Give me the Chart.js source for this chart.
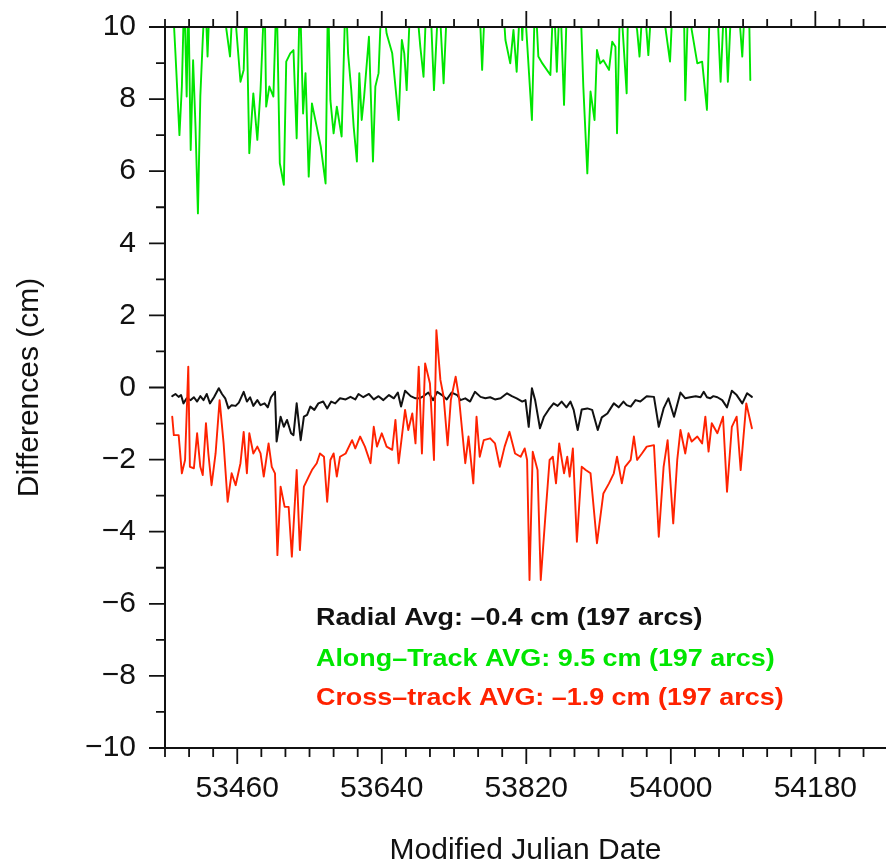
<!DOCTYPE html>
<html><head><meta charset="utf-8">
<script src="https://cdn.jsdelivr.net/npm/chart.js@4.4.1/dist/chart.umd.min.js"></script>
<style>html,body{margin:0;padding:0;background:#fff;overflow:hidden}canvas{display:block}</style>
</head><body>
<canvas id="c" width="886" height="864" style="width:886px;height:864px"></canvas>
<script>
// ---- tick labels ----
const xTickValues = [53460, 53640, 53820, 54000, 54180];
const yTickValues = [-10, -8, -6, -4, -2, 0, 2, 4, 6, 8, 10];

// ---- Radial (black) ----
const radialMJD = [53379,53383,53387,53390,53393,53397,53402,53406,53410,53414,53418,53422,53426,53431,53437,53441,53445,53449,53453,53458,53462,53468,53472,53476,53480,53485,53489,53494,53498,53502,53507,53509,53514,53518,53522,53527,53530,53534,53539,53543,53547,53551,53556,53561,53567,53572,53577,53582,53588,53595,53601,53607,53611,53617,53624,53630,53636,53642,53649,53655,53660,53664,53669,53676,53682,53687,53692,53698,53704,53709,53715,53721,53727,53734,
53738,53744,53750,53756,53763,53769,53775,53781,53788,53796,53802,53808,53815,53819,53823,53827,53831,53837,53842,53848,53854,53859,53864,53870,53875,53879,53884,53889,53896,53902,53909,53914,53921,53925,53929,53935,53941,53945,53950,53956,53962,53970,53979,53985,53991,53997,54004,54012,54018,54024,54031,54037,54041,54045,54049,54053,54058,54064,54070,54076,54082,54089,54095,54101];
const radialVals = [-0.24,-0.18,-0.26,-0.21,-0.44,-0.30,-0.35,-0.27,-0.39,-0.24,-0.35,-0.18,-0.44,-0.27,-0.02,-0.18,-0.30,-0.58,-0.49,-0.51,-0.42,-0.12,-0.39,-0.27,-0.51,-0.35,-0.49,-0.44,-0.55,-0.27,-0.12,-1.50,-0.81,-1.09,-0.90,-1.27,-1.32,-0.44,-1.46,-0.81,-0.76,-0.53,-0.62,-0.44,-0.39,-0.58,-0.39,-0.44,-0.30,-0.33,-0.26,-0.33,-0.18,-0.27,-0.18,-0.33,-0.24,-0.35,-0.21,-0.30,-0.14,-0.53,-0.09,-0.24,-0.30,-0.30,-0.24,-0.14,-0.35,-0.12,-0.21,-0.33,-0.14,-0.21,
-0.35,-0.30,-0.39,-0.12,-0.26,-0.30,-0.27,-0.33,-0.30,-0.16,-0.24,-0.30,-0.39,-0.35,-1.09,-0.02,-0.35,-1.13,-0.81,-0.61,-0.44,-0.51,-0.39,-0.55,-0.39,-0.62,-1.18,-0.61,-0.58,-0.62,-1.18,-0.83,-0.72,-0.58,-0.44,-0.55,-0.39,-0.49,-0.53,-0.35,-0.39,-0.24,-0.26,-1.09,-0.58,-0.30,-0.81,-0.14,-0.30,-0.27,-0.24,-0.27,-0.12,-0.27,-0.30,-0.24,-0.27,-0.35,-0.55,-0.09,-0.21,-0.44,-0.16,-0.26];

// ---- Along-Track (green) ----
const alongMJD = [53379,53383,53388,53391,53394,53397,53399,53402,53405,53408,53411,53414,53417,53420,53423,53426,53440,53451,53455,53464,53468,53471,53475,53480,53485,53489,53494,53496,53500,53505,53509,53513,53518,53521,53526,53530,53534,53538,53542,53545,53549,53553,53559,53564,53570,53573,53576,53580,53584,53590,53595,53598,53602,53605,53609,53612,53615,53618,53624,53629,53632,53636,53640,53646,53653,53657,53661,53665,53668,53671,53676,53682,53688,53692,53696,53700,53705,53711,53717,53722,
53742,53761,53765,53769,53779,53790,53794,53800,53804,53808,53813,53815,53817,53827,53831,53835,53840,53850,53854,53858,53862,53867,53871,53879,53887,53891,53896,53900,53905,53908,53912,53916,53923,53927,53931,53933,53937,53945,53947,53958,53961,53966,53972,53977,53987,53999,54003,54016,54018,54022,54026,54033,54039,54045,54049,54057,54062,54067,54071,54076,54083,54089,54093,54097,54099];
const alongVals = [11,9.27,7.00,8.35,11,8.07,11,6.59,9.08,7.23,4.83,8.07,9.64,11,9.18,11,11,9.18,11,8.48,8.81,11,6.50,8.16,6.87,8.25,11,7.79,8.35,8.07,11,6.22,5.62,9.04,9.27,9.36,6.91,11,7.60,8.72,5.85,7.88,7.23,6.68,5.66,11,7.97,7.05,7.79,6.96,11,9.27,8.25,7.23,6.27,8.72,7.42,8.07,9.73,6.27,8.35,8.72,11,9.82,9.27,8.35,7.42,9.64,9.27,8.25,11,11,9.45,8.62,11,11,8.25,11,8.44,11,
11,11,8.81,11,11,11,9.64,8.99,9.92,8.76,11,9.64,11,7.42,11,9.18,8.99,8.67,11,8.76,11,7.84,11,11,11,8.35,5.94,8.21,7.42,9.36,8.99,9.08,8.81,9.59,9.45,7.05,11,8.16,11,9.92,9.18,11,9.22,11,11,9.04,11,11,7.97,11,9.92,8.99,9.04,7.70,11,11,8.48,11,8.48,11,11,9.18,11,11,8.53];

// ---- Cross-track (red) ----
const crossMJD = [53379,53381,53387,53391,53395,53399,53401,53406,53410,53414,53417,53421,53424,53428,53433,53438,53443,53448,53453,53458,53464,53468,53472,53475,53480,53485,53489,53493,53499,53503,53507,53510,53514,53519,53524,53528,53534,53538,53543,53549,53553,53559,53563,53568,53572,53576,53580,53584,53588,53595,53603,53607,53613,53619,53626,53630,53634,53640,53646,53653,53657,53661,53665,53669,53673,53678,53682,53686,53690,53694,53700,53705,53708,53713,53717,53722,53726,53732,
53736,53744,53748,53754,53758,53762,53767,53775,53781,53787,53793,53799,53806,53813,53818,53821,53824,53828,53834,53838,53844,53849,53853,53857,53861,53867,53871,53874,53878,53883,53889,53894,53900,53908,53916,53923,53929,53933,53939,53943,53950,53954,53958,53964,53970,53979,53985,53991,53996,54003,54008,54012,54018,54022,54026,54033,54039,54043,54047,54051,54058,54065,54070,54076,54082,54087,54094,54101];
const crossVals = [-0.81,-1.32,-1.32,-2.38,-2.01,0.58,-2.20,-2.24,-1.27,-2.20,-2.43,-0.99,-1.83,-2.71,-1.83,-0.35,-1.55,-3.17,-2.38,-2.71,-2.10,-1.23,-2.38,-1.27,-1.83,-1.64,-1.83,-2.47,-1.55,-2.20,-2.38,-4.65,-2.75,-3.31,-3.31,-4.69,-2.29,-4.51,-2.75,-2.47,-2.29,-2.10,-1.83,-1.92,-3.17,-2.01,-1.83,-2.47,-1.92,-1.83,-1.46,-1.69,-1.36,-1.64,-2.10,-1.09,-1.64,-1.27,-1.64,-1.73,-0.90,-2.10,-1.36,-0.62,-1.18,-0.72,-1.55,0.58,-1.83,0.67,0.11,-2.01,1.59,0.21,-0.25,-1.60,-0.35,0.30,
-0.25,-2.10,-1.36,-2.66,-0.81,-1.92,-1.46,-1.41,-1.55,-2.20,-1.64,-1.23,-1.83,-1.92,-1.69,-2.01,-5.34,-1.78,-2.29,-5.34,-3.49,-2.01,-1.92,-2.66,-1.55,-2.38,-1.92,-2.47,-1.69,-4.28,-2.20,-2.29,-2.38,-4.32,-2.94,-2.66,-2.38,-1.92,-2.66,-2.20,-2.01,-1.36,-2.01,-1.83,-1.64,-1.60,-4.14,-2.20,-1.46,-3.77,-2.01,-1.18,-1.83,-1.27,-1.50,-1.36,-1.55,-0.81,-1.78,-0.99,-1.27,-0.81,-2.89,-1.09,-0.81,-2.29,-0.44,-1.13];

const annotationLines = [
  'Radial Avg: \u20130.4 cm (197 arcs)',
  'Along\u2013Track AVG: 9.5 cm (197 arcs)',
  'Cross\u2013track AVG: \u20131.9 cm (197 arcs)'
];

const FONT = '"Liberation Sans", Arial, Helvetica, sans-serif';
const BLACK = '#111111', GREEN = '#00e600', RED = '#ff2200';

const pts = (xs, ys) => xs.map((m, i) => ({x: m, y: ys[i]}));

const framePlugin = {
  id: 'frame',
  afterDraw(chart) {
    const {ctx, chartArea: a, scales: {x, y}} = chart;
    ctx.save();
    ctx.strokeStyle = BLACK;
    ctx.lineWidth = 2;
    ctx.beginPath();
    ctx.moveTo(a.right + 2, a.top); ctx.lineTo(a.left, a.top);
    ctx.lineTo(a.left, a.bottom); ctx.lineTo(a.right + 2, a.bottom);
    ctx.stroke();
    ctx.lineWidth = 1.8;
    ctx.beginPath();
    for (let v = Math.ceil(x.min / 30) * 30; v <= x.max; v += 30) {
      const px = x.getPixelForValue(v);
      const major = (v - xTickValues[0]) % 180 === 0;
      ctx.moveTo(px, a.bottom); ctx.lineTo(px, a.bottom + (major ? 16 : 9));
      ctx.moveTo(px, a.top); ctx.lineTo(px, a.top - (major ? 16 : 8));
    }
    for (let v = y.min; v <= y.max; v += 1) {
      const py = y.getPixelForValue(v);
      ctx.moveTo(a.left, py); ctx.lineTo(a.left - (v % 2 === 0 ? 16 : 9), py);
    }
    ctx.stroke();
    ctx.restore();
  }
};

const annotationPlugin = {
  id: 'avgText',
  afterDraw(chart) {
    const {ctx, scales: {x, y}} = chart;
    const colors = [BLACK, GREEN, RED];
    const yVals = [-6.42, -7.56, -8.64];
    const px = x.getPixelForValue(53558);
    ctx.save();
    ctx.font = 'bold 23px ' + FONT;
    ctx.textBaseline = 'middle';
    ctx.textAlign = 'left';
    annotationLines.forEach((t, i) => {
      ctx.save();
      ctx.translate(px, y.getPixelForValue(yVals[i]));
      ctx.scale(1.17, 1);
      ctx.fillStyle = colors[i];
      ctx.fillText(t, 0, 0);
      ctx.restore();
    });
    ctx.restore();
  }
};

new Chart(document.getElementById('c'), {
  type: 'line',
  data: {
    datasets: [
      {label: 'Along-Track', data: pts(alongMJD, alongVals), borderColor: GREEN, borderWidth: 1.9, order: 0},
      {label: 'Cross-track', data: pts(crossMJD, crossVals), borderColor: RED, borderWidth: 1.9, order: 1},
      {label: 'Radial', data: pts(radialMJD, radialVals), borderColor: BLACK, borderWidth: 2, order: 2}
    ]
  },
  options: {
    responsive: false,
    animation: false,
    devicePixelRatio: 1,
    layout: {padding: {top: 27, left: 0, right: 0, bottom: 0}},
    plugins: {legend: {display: false}, tooltip: {enabled: false}},
    elements: {
      point: {radius: 0},
      line: {tension: 0, borderJoinStyle: 'round', borderCapStyle: 'round', fill: false}
    },
    datasets: {line: {clip: 0}},
    scales: {
      x: {
        type: 'linear', position: 'bottom', min: 53370, max: 54268,
        afterBuildTicks: s => { s.ticks = xTickValues.map(v => ({value: v})); },
        afterFit: s => { s.height = 116; },
        grid: {display: false, drawTicks: true, tickLength: 23},
        border: {display: false},
        ticks: {font: {family: FONT, size: 30}, color: BLACK, padding: 0, maxRotation: 0, autoSkip: false,
                callback: v => String(v)},
        title: {display: true, text: 'Modified Julian Date', color: BLACK,
                font: {family: FONT, size: 30, lineHeight: 1}, padding: {top: 0, bottom: -2}}
      },
      y: {
        type: 'linear', position: 'left', min: -10, max: 10,
        afterBuildTicks: s => { s.ticks = yTickValues.map(v => ({value: v})); },
        afterFit: s => { s.width = 165; },
        grid: {display: false, drawTicks: true, tickLength: 29},
        border: {display: false},
        ticks: {font: {family: FONT, size: 30}, color: BLACK, padding: 0,
                callback: v => v < 0 ? '\u2212' + Math.abs(v) : String(v)},
        title: {display: true, text: 'Differences (cm)', color: BLACK,
                font: {family: FONT, size: 30, lineHeight: 1.2}, padding: {top: 12, bottom: 0}}
      }
    }
  },
  plugins: [framePlugin, annotationPlugin]
});
</script>
</body></html>
